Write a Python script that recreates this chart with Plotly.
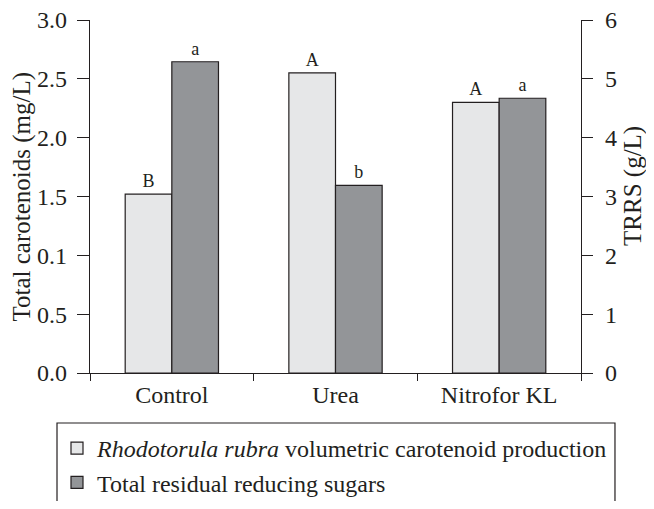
import plotly.graph_objects as go

categorias = ["Control", "Urea", "Nitrofor KL"]
carotenoides = [1.52, 2.55, 2.30]          # mg/L, eixo esquerdo
trrs = [5.29, 3.19, 4.67]                  # g/L, eixo direito
letras_carot = ["B", "A", "A"]
letras_trrs = ["a", "b", "a"]

ticks_esq = [0, 0.5, 1.0, 1.5, 2.0, 2.5, 3.0]
ticktext_esq = ["0.0", "0.5", "0.1", "1.5", "2.0", "2.5", "3.0"]
ticks_dir = [0, 1, 2, 3, 4, 5, 6]

nome_carot = "<i>Rhodotorula rubra</i> volumetric carotenoid production"
nome_trrs = "Total residual reducing sugars"

FONTE = "Liberation Serif"
COR_TXT = "#231f20"

fig = go.Figure()
fig.add_trace(go.Bar(
    x=categorias, y=carotenoides, name=nome_carot,
    width=0.285, offset=-0.285,
    marker=dict(color="#e6e7e8", line=dict(color=COR_TXT, width=1.2)),
    text=letras_carot, textposition="outside", cliponaxis=False,
    textfont=dict(family=FONTE, size=18, color=COR_TXT),
    yaxis="y",
))
fig.add_trace(go.Bar(
    x=categorias, y=trrs, name=nome_trrs,
    width=0.285, offset=0,
    marker=dict(color="#939598", line=dict(color=COR_TXT, width=1.2)),
    text=letras_trrs, textposition="outside", cliponaxis=False,
    textfont=dict(family=FONTE, size=18, color=COR_TXT),
    yaxis="y2",
))

eixo = dict(showline=True, linecolor=COR_TXT, linewidth=1.3, ticks="outside",
            tickcolor=COR_TXT, tickwidth=1.3, ticklen=11, showgrid=False,
            zeroline=False, automargin=False, ticklabeloverflow="allow",
            tickfont=dict(family=FONTE, size=24, color=COR_TXT))

fig.update_layout(
    width=638, height=493,
    paper_bgcolor="white", plot_bgcolor="white",
    margin=dict(l=82, r=65, t=12, b=128, autoexpand=False),
    font=dict(family=FONTE, color=COR_TXT),
    xaxis=dict(eixo, tickson="boundaries", ticklen=7, range=[-0.5, 2.5]),
    yaxis=dict(eixo, range=[0, 3], tickvals=ticks_esq, ticktext=ticktext_esq,
               ticklen=12, ticklabelstandoff=5),
    yaxis2=dict(eixo, range=[0, 6], tickvals=ticks_dir, overlaying="y",
                side="right", ticklabelstandoff=7),
    showlegend=True,
    legend=dict(xref="container", yref="container", x=49 / 638, y=1 - 418 / 493,
                xanchor="left", yanchor="top",
                font=dict(family=FONTE, size=24, color=COR_TXT),
                borderwidth=0, bgcolor="rgba(0,0,0,0)", tracegroupgap=0),
)

fig.add_shape(type="rect", xref="paper", yref="paper",
              x0=-0.0672, x1=1.0692, y0=-0.6, y1=-0.1416,
              line=dict(color=COR_TXT, width=1.2), fillcolor="rgba(0,0,0,0)")

fig.add_annotation(text="Total carotenoids (mg/L)", xref="paper", yref="paper",
                   x=-0.1405, y=0.5, xanchor="center", yanchor="middle",
                   textangle=-90, showarrow=False,
                   font=dict(family=FONTE, size=25, color=COR_TXT))
fig.add_annotation(text="TRRS (g/L)", xref="paper", yref="paper",
                   x=1.106, y=0.53, xanchor="center", yanchor="middle",
                   textangle=-90, showarrow=False,
                   font=dict(family=FONTE, size=25, color=COR_TXT))

fig.write_html("out.html")
